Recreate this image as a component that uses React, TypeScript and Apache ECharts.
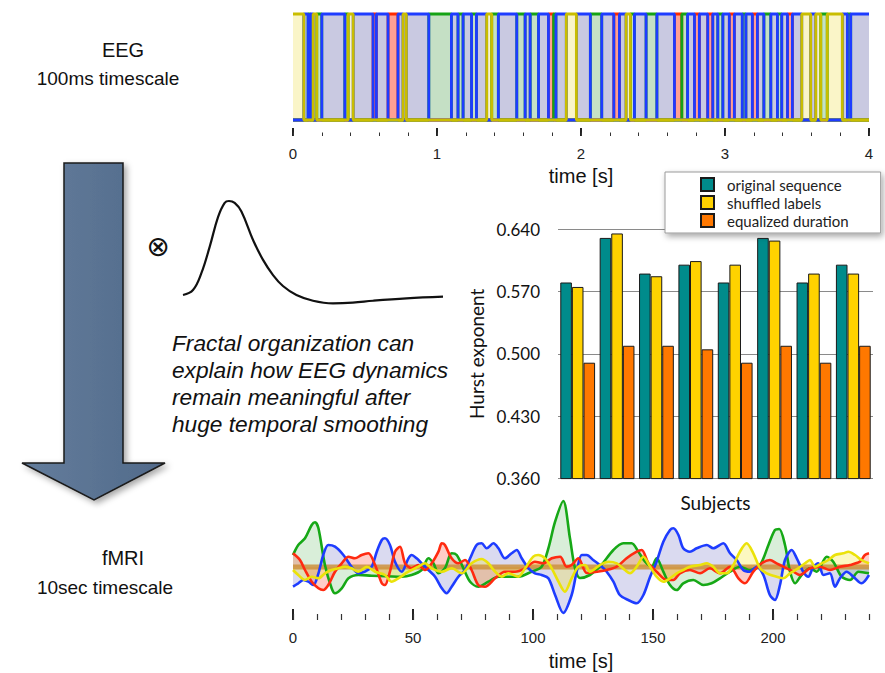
import React, { useEffect, useRef } from "react";
import * as echarts from "echarts";

// ---------- EEG microstate sequence (top panel) ----------
// state active in each segment: Y=yellow, B=blue, G=green, R=red
const eegStates = [
  "Y","B","G","B","Y","G","B","G","Y","B",
  "R","B","R","B","Y","B","G","B","G","B",
  "G","B","Y","G","B","G","B","G","B","R",
  "G","B","Y","B","G","B","R","B","Y","G",
  "B","G","B","R","G","B","R","B","R","B",
  "G","B","R","B","G","B","R","B","G","B",
  "G","B","R","B","Y","B","Y","G","Y","B",
  "G","B",
];
// segment boundaries in seconds
const eegBounds = [
  0, 0.075, 0.105, 0.12, 0.14, 0.165, 0.2, 0.36, 0.383, 0.418, 0.556,
  0.579, 0.66, 0.729, 0.764, 0.787, 0.943, 1.1, 1.146, 1.181, 1.24,
  1.274, 1.345, 1.38, 1.426, 1.554, 1.612, 1.647, 1.705, 1.774, 1.81,
  1.826, 1.898, 1.968, 2.065, 2.144, 2.228, 2.267, 2.313, 2.343, 2.371,
  2.452, 2.527, 2.649, 2.7, 2.74, 2.788, 2.822, 2.88, 2.915, 2.95,
  2.985, 3.03, 3.065, 3.12, 3.145, 3.19, 3.225, 3.27, 3.318, 3.364,
  3.394, 3.434, 3.468, 3.533, 3.595, 3.63, 3.665, 3.71, 3.815, 3.85,
  3.873, 4.0,
];
const eegTicks = [0, 1, 2, 3, 4];

// ---------- Hurst exponents (bar chart) ----------
const subjects = ["1", "2", "3", "4", "5", "6", "7", "8"];
const hurstOriginal = [0.58, 0.63, 0.59, 0.6, 0.58, 0.63, 0.58, 0.6];
const hurstShuffled = [0.575, 0.635, 0.587, 0.604, 0.6, 0.627, 0.59, 0.59];
const hurstEqualized = [0.49, 0.509, 0.509, 0.505, 0.49, 0.509, 0.49, 0.509];
const seriesNames = ["original sequence", "shuffled labels", "equalized duration"];

// ---------- haemodynamic response function ----------
const hrfCurve = [
  [0, 0.01], [1.23, 0.063], [2.26, 0.24], [3.29, 0.52], [4.31, 0.83],
  [5.13, 0.98], [5.66, 1.0], [6.36, 0.98], [7.19, 0.89], [8.62, 0.59],
  [9.85, 0.38], [11.08, 0.22], [12.3, 0.105], [13.96, 0.01], [16, -0.05],
  [18.46, -0.077], [20.9, -0.07], [23.4, -0.05], [27.5, -0.025], [32, -0.007],
];

// ---------- fMRI (convolved) signals ----------
const fmriTicks = [0, 50, 100, 150, 200];
const fmriBaseline = [[0, 0], [240, 0]];
const fmriGreen = [
  [0, 1.2], [2.2, 2.2], [5, 2.87], [7.8, 4.2], [9.2, 4.47], [10.6, 3.87], [13.3, 0.2],
  [16.1, -2.13], [17.5, -2.63], [20.3, -2.13], [23.1, -1.13], [27.2, -0.8], [32.8, -0.87],
  [45.3, -0.97], [49.4, -0.8], [53.6, -0.3], [56.4, 0.87], [58.5, 0.37], [60.6, -0.63],
  [63.3, -0.13], [66.1, 1.37], [68.2, 1.2], [71, -0.13], [73.8, -1.47], [77.2, -1.97],
  [81.4, -1.47], [85.6, -0.97], [93.9, -0.97], [99.4, -0.47], [103.6, 0.03], [106.4, 1.87],
  [109.2, 4.53], [112.6, 6.6], [115.4, 2.87], [117.5, -0.13], [119.6, -1.1], [123.7, -0.8],
  [127.9, 0.03], [133.5, 1.7], [137.6, 2.37], [141.1, 2.37], [143.9, 1.53], [146.7, 0.53],
  [149.4, 0.03], [151.5, 0.87], [154.3, -0.47], [157.1, -1.8], [159.9, -2.3], [162.6, -1.63],
  [166.8, -1.3], [171, -1.8], [174.4, -1.63], [177.9, -1.13], [182.1, -0.47], [186.2, 0.03],
  [190.4, -0.3], [194.6, 0.2], [198.1, 2.2], [200.8, 3.7], [202.6, 3.8], [205, 2.2],
  [207.1, -0.47], [209.2, -1.63], [211.9, -0.8], [215.4, -0.13], [218.2, -0.47], [222.4, 1.03],
  [225.1, 0.53], [228.6, -0.97], [232.1, -1.3], [235.6, -0.47], [240, -0.63],
];
const fmriRed = [
  [0, 1.37], [2.9, 0.7], [5, -0.3], [7.8, -1.47], [10.6, -2.13], [12.6, -2.3], [14.7, -1.8],
  [17.5, -0.47], [20.3, 0.37], [23.1, 1.03], [25.8, 0.87], [28.6, 1.2], [31.4, 1.37],
  [34.2, 0.2], [37, -1.63], [38.3, -1.8], [40.4, -0.47], [42.5, 1.53], [44.6, 2.03],
  [46.7, 0.37], [49.4, -0.13], [52.2, 0.2], [55, -0.3], [57.8, 0.37], [60.6, 1.53], [62, 2.37],
  [63.3, 2.2], [66.1, 0.87], [68.9, 0.37], [71.7, 0.7], [74.4, -0.3], [77.2, -1.8], [80, -1.97],
  [84.2, -1.13], [88.3, -0.47], [92.5, -0.47], [96.7, -0.13], [100.8, 0.53], [104.3, 0.37],
  [107.8, 0.87], [111.3, 1.03], [114, 0.03], [116.1, 0.2], [118.9, 0.87], [122.4, -0.6],
  [126.5, -0.47], [130.7, -0.3], [134.9, 0.03], [139, 0.87], [143.2, 1.53], [145.3, 1.7],
  [148.1, 0.37], [151.5, -0.47], [155.7, -1.3], [158.5, -1.3], [161.2, -0.63], [165.4, -0.3],
  [169.6, -0.63], [173.7, -0.13], [177.9, -0.63], [182.1, 0.03], [185.6, -1.13], [188.3, -1.63],
  [191.8, -0.47], [195.3, 0.37], [198.7, 0.7], [201.5, 0.37], [204.3, 0.03], [208.5, -0.47],
  [211.2, -0.8], [215.4, -0.13], [219.6, 0.03], [223.7, -0.3], [227.9, 0.03], [232.1, 0.2],
  [236.2, 0.53], [238.3, 1.2], [240, 1.37],
];
const fmriBlue = [
  [0, -1.97], [2.2, -1.63], [4.3, -1.3], [6.4, -1.47], [8.5, -1.8], [10.6, -0.63], [12.6, 1.2],
  [14.7, 2.2], [17.5, 2.03], [21, 1.2], [24.4, 0.03], [27.2, -0.63], [30, -0.47], [32.8, 0.03],
  [34.9, 1.53], [37, 2.7], [38.3, 2.87], [40.4, 2.2], [42.5, 0.53], [45.3, -0.47], [48.1, 0.87],
  [49.4, 1.2], [51.5, 0.87], [53.6, 0.37], [56.4, -0.3], [59.2, -0.97], [62, -2.13], [64, -2.63],
  [66.1, -1.97], [68.9, -0.97], [71.7, -0.3], [73.8, 0.87], [76.5, 2.2], [78.6, 2.37],
  [80.7, 1.87], [83.5, 2.37], [85.6, 1.87], [88.3, 0.87], [91.1, 1.37], [93.2, 1.7], [95.3, 0.87],
  [98.1, -0.13], [100.8, -0.63], [103.6, -0.8], [106.4, -1.13], [109.2, -2.8], [112.6, -4.6],
  [116.1, -2.8], [118.2, -0.47], [120.3, 1.2], [122.4, 1.2], [125.1, 0.7], [127.9, 0.2],
  [130.7, -0.47], [133.5, -1.47], [136.2, -2.8], [139.7, -3.3], [143.2, -3.63], [146, -2.8],
  [148.8, -0.97], [151.5, 0.53], [154.3, 2.53], [157.1, 3.7], [158.5, 3.87], [160.6, 3.2],
  [162.6, 1.87], [165.4, 1.53], [168.2, 1.87], [172.4, 2.2], [175.1, 1.87], [179.3, 2.37],
  [182.1, 1.37], [184.9, 0.7], [187.6, -0.3], [190.4, -0.47], [193.2, 0.03], [196, -0.8],
  [198.7, -2.8], [200.8, -3.3], [202.9, -1.8], [205, 0.7], [207.8, 1.7], [209.9, 0.87],
  [212.6, -0.47], [214.7, -0.97], [216.8, 0.03], [218.9, 0.37], [221, -0.8], [223.7, -0.63],
  [225.8, -1.97], [227.9, -1.13], [230.7, -0.47], [233.5, -0.97], [236.9, -1.63], [240, -0.8],
];
const fmriYellow = [
  [0, -0.3], [2.2, -0.8], [5, -1.3], [7.8, -0.97], [10.6, -1.13], [13.3, -0.63], [16.1, -0.3],
  [18.9, -0.13], [21.7, 0.03], [24.4, -0.13], [27.2, -0.47], [30.7, 0.03], [34.2, -0.47],
  [38.3, -0.8], [41.1, -1.47], [43.9, -1.13], [48.1, -0.47], [52.2, 0.03], [55, 0.37],
  [57.8, -0.13], [62, -0.47], [66.1, -0.13], [70.3, -0.63], [74.4, 0.37], [78.6, 0.8],
  [81.4, 0.37], [84.2, -0.47], [87, -0.97], [89.7, -0.63], [93.9, -0.97], [96.7, -0.13],
  [100.1, 1.03], [102.2, 1.2], [105, 0.87], [107.8, -0.13], [110.6, -1.47], [113.3, -2.47],
  [116.1, -1.13], [118.9, 0.03], [121.7, 0.2], [123.7, -0.47], [127.9, 0.2], [131.4, 0.53],
  [134.9, 0.37], [138.3, -0.3], [140.4, -0.63], [143.2, 0.03], [146, 1.03], [148.8, 0.03],
  [151.5, -0.97], [154.3, -1.47], [157.1, -1.13], [159.9, -0.63], [162.6, -0.3], [165.4, 0.03],
  [169.6, 0.2], [172.4, 0.37], [175.1, 0.03], [177.9, -0.63], [180.7, -0.63], [183.5, 0.2],
  [186.2, 1.53], [189, 2.37], [191.8, 1.37], [194.6, -0.13], [197.4, -0.63], [201.5, -0.97],
  [204.3, -1.13], [207.1, -0.63], [210.5, -0.13], [213.3, 0.37], [215.4, 0.7], [217.5, 0.03],
  [220.3, 0.37], [223.1, 0.7], [225.8, 1.2], [229.3, 1.37], [231.4, 1.53], [234.2, 1.2],
  [236.9, 0.7], [240, 0.37],
];

const SANS = "'Liberation Sans', Arial, Helvetica, sans-serif";
const GILL = "Lato, 'Open Sans', sans-serif";

const stateStyle: Record<string, { line: string; fill: string }> = {
  R: { line: "#ff2a00", fill: "#ffa093" },
  G: { line: "#15a315", fill: "#c5e0c5" },
  B: { line: "#1e3cff", fill: "#c9c9e1" },
  Y: { line: "#c9bd00", fill: "#faf5c8" },
};
const stateOrder = ["R", "G", "B", "Y"];

function eegSeries(s: string) {
  const data: number[][] = [];
  for (let i = 0; i < eegStates.length; i++) {
    const v = eegStates[i] === s ? 1 : 0;
    data.push([eegBounds[i], v], [eegBounds[i + 1], v]);
  }
  return {
    type: "line",
    xAxisIndex: 0,
    yAxisIndex: 0,
    data,
    symbol: "none",
    clip: false,
    lineStyle: { color: stateStyle[s].line, width: 2.8 },
    areaStyle: { color: stateStyle[s].fill, opacity: 1 },
    silent: true,
  };
}

function fmriSeries(data: number[][], line: string, fill: string) {
  return {
    type: "line",
    xAxisIndex: 3,
    yAxisIndex: 2,
    data,
    symbol: "none",
    smooth: 0.3,
    lineStyle: { color: line, width: 2.6 },
    areaStyle: { color: fill },
    silent: true,
  };
}

function buildOption() {
  const tickAxisBase = {
    type: "value",
    position: "bottom",
    axisLine: { show: false, onZero: false },
    splitLine: { show: false },
  };
  return {
    animation: false,
    backgroundColor: "#ffffff",
    grid: [
      { left: 293, top: 14, width: 576, height: 106 },
      { left: 558, top: 229, width: 315, height: 249.6 },
      { left: 293, top: 495, width: 576, height: 125 },
      { left: 183, top: 201, width: 260, height: 102.6 },
    ],
    xAxis: [
      {
        ...tickAxisBase,
        gridIndex: 0,
        min: 0,
        max: 4,
        interval: 1,
        offset: 16,
        axisTick: { inside: true, length: 8, customValues: eegTicks, lineStyle: { color: "#222", width: 2 } },
        axisLabel: { customValues: eegTicks, margin: 10, fontSize: 15, color: "#222", fontFamily: SANS },
        name: "time [s]",
        nameLocation: "middle",
        nameGap: 30,
        nameTextStyle: { fontSize: 20, color: "#111", fontFamily: SANS },
      },
      {
        ...tickAxisBase,
        gridIndex: 0,
        min: 0,
        max: 4,
        interval: 0.2,
        offset: 16,
        axisTick: { inside: true, length: 3.5, lineStyle: { color: "#333", width: 1 } },
        axisLabel: { show: false },
      },
      {
        type: "category",
        gridIndex: 1,
        data: subjects,
        axisLine: { show: false, onZero: false },
        axisTick: { show: false },
        axisLabel: { show: false },
        name: "Subjects",
        nameLocation: "middle",
        nameGap: 14,
        nameTextStyle: { fontSize: 19, color: "#111", fontFamily: GILL },
      },
      {
        ...tickAxisBase,
        gridIndex: 2,
        min: 0,
        max: 240,
        interval: 50,
        axisTick: {
          inside: true,
          length: 11,
          customValues: fmriTicks,
          lineStyle: { color: "#222", width: 2 },
        },
        axisLabel: {
          customValues: fmriTicks,
          margin: 10,
          fontSize: 15,
          color: "#222",
          fontFamily: SANS,
        },
        name: "time [s]",
        nameLocation: "middle",
        nameGap: 31,
        nameTextStyle: { fontSize: 20, color: "#111", fontFamily: SANS },
      },
      {
        ...tickAxisBase,
        gridIndex: 2,
        min: 0,
        max: 240,
        interval: 10,
        axisTick: { inside: true, length: 6, lineStyle: { color: "#333", width: 1.2 } },
        axisLabel: { show: false },
      },
      { type: "value", gridIndex: 3, min: 0, max: 32, show: false },
    ],
    yAxis: [
      { type: "value", gridIndex: 0, min: 0, max: 1, show: false },
      {
        type: "value",
        gridIndex: 1,
        min: 0.36,
        max: 0.64,
        interval: 0.07,
        axisLine: { show: false, onZero: false },
        axisTick: { show: false },
        axisLabel: {
          formatter: (v: number) => v.toFixed(3),
          margin: 18,
          fontSize: 17,
          color: "#111",
          fontFamily: GILL,
        },
        splitLine: { lineStyle: { color: "#8a8a8a", width: 1 } },
        name: "Hurst exponent",
        nameLocation: "middle",
        nameGap: 72,
        nameTextStyle: { fontSize: 19, color: "#111", fontFamily: GILL },
      },
      { type: "value", gridIndex: 2, min: -5.3, max: 7.2, show: false },
      { type: "value", gridIndex: 3, min: -0.08, max: 1.0, show: false },
    ],
    legend: {
      data: seriesNames,
      orient: "vertical",
      left: 665,
      top: 172,
      icon: "rect",
      itemWidth: 13,
      itemHeight: 13,
      itemGap: 3,
      padding: [5, 32, 5, 35],
      backgroundColor: "#ffffff",
      borderColor: "#9a9a9a",
      borderWidth: 1,
      shadowBlur: 6,
      shadowColor: "rgba(0,0,0,0.35)",
      shadowOffsetX: 2,
      shadowOffsetY: 3,
      selectedMode: false,
      textStyle: { fontSize: 15, color: "#222", fontFamily: GILL, padding: [0, 0, 0, 8] },
    },
    series: [
      ...stateOrder.map(eegSeries),
      {
        type: "bar",
        name: seriesNames[0],
        xAxisIndex: 2,
        yAxisIndex: 1,
        data: hurstOriginal,
        barWidth: 11.6,
        barGap: "0%",
        itemStyle: { color: "#008b8b", borderColor: "#1a1a1a", borderWidth: 1 },
      },
      {
        type: "bar",
        name: seriesNames[1],
        xAxisIndex: 2,
        yAxisIndex: 1,
        data: hurstShuffled,
        barWidth: 11.6,
        barGap: "0%",
        itemStyle: { color: "#ffd200", borderColor: "#1a1a1a", borderWidth: 1 },
      },
      {
        type: "bar",
        name: seriesNames[2],
        xAxisIndex: 2,
        yAxisIndex: 1,
        data: hurstEqualized,
        barWidth: 11.6,
        barGap: "0%",
        itemStyle: { color: "#ff7800", borderColor: "#1a1a1a", borderWidth: 1 },
      },
      {
        type: "line",
        xAxisIndex: 3,
        yAxisIndex: 2,
        data: fmriBaseline,
        symbol: "none",
        lineStyle: { color: "rgba(205,145,60,0.85)", width: 5 },
        silent: true,
      },
      fmriSeries(fmriGreen, "#16a816", "rgba(40,160,40,0.25)"),
      fmriSeries(fmriBlue, "#1e3cff", "rgba(50,50,170,0.26)"),
      fmriSeries(fmriRed, "#ff2a10", "rgba(255,50,30,0.35)"),
      fmriSeries(fmriYellow, "#ebe20a", "rgba(245,230,30,0.4)"),
      {
        type: "line",
        xAxisIndex: 5,
        yAxisIndex: 3,
        data: hrfCurve,
        symbol: "none",
        smooth: 0.4,
        clip: false,
        lineStyle: { color: "#111", width: 2.2 },
        silent: true,
      },
    ],
    graphic: [
      {
        type: "polygon",
        shape: {
          points: [
            [64, 163], [123, 163], [123, 463], [165, 463], [94, 500], [22, 463], [64, 463],
          ],
        },
        style: {
          fill: new echarts.graphic.LinearGradient(0, 0, 1, 0, [
            { offset: 0, color: "#647d9c" },
            { offset: 1, color: "#516a8a" },
          ]),
          stroke: "#1a1a1a",
          lineWidth: 1.5,
          shadowBlur: 6,
          shadowColor: "rgba(0,0,0,0.35)",
          shadowOffsetX: 3,
          shadowOffsetY: 3,
        },
        silent: true,
      },
      {
        type: "text",
        x: 123,
        y: 50,
        style: { text: "EEG", font: `20px ${SANS}`, fill: "#111", textAlign: "center", textVerticalAlign: "middle" },
      },
      {
        type: "text",
        x: 108,
        y: 78,
        style: { text: "100ms timescale", font: `19px ${SANS}`, fill: "#111", textAlign: "center", textVerticalAlign: "middle" },
      },
      {
        type: "text",
        x: 123,
        y: 558,
        style: { text: "fMRI", font: `20px ${SANS}`, fill: "#111", textAlign: "center", textVerticalAlign: "middle" },
      },
      {
        type: "text",
        x: 105,
        y: 587,
        style: { text: "10sec timescale", font: `19px ${SANS}`, fill: "#111", textAlign: "center", textVerticalAlign: "middle" },
      },
      {
        type: "text",
        x: 158,
        y: 246,
        style: { text: "⊗", font: "28px 'DejaVu Sans', sans-serif", fill: "#111", textAlign: "center", textVerticalAlign: "middle" },
      },
      {
        type: "text",
        x: 172,
        y: 329,
        style: {
          text:
            "Fractal organization can\nexplain how EEG dynamics\nremain meaningful after\nhuge temporal smoothing",
          font: `italic 22.7px ${SANS}`,
          lineHeight: 27,
          fill: "#111",
          textAlign: "left",
          textVerticalAlign: "top",
        },
      },
    ],
  };
}

export default function App() {
  const ref = useRef<HTMLDivElement>(null);
  useEffect(() => {
    if (!ref.current) return;
    const chart = echarts.init(ref.current, null, { renderer: "svg" });
    chart.setOption(buildOption() as any);
    return () => chart.dispose();
  }, []);
  return (
    <div
      ref={ref}
      style={{ position: "absolute", left: 0, top: 0, width: 885, height: 673, background: "#fff" }}
    />
  );
}
